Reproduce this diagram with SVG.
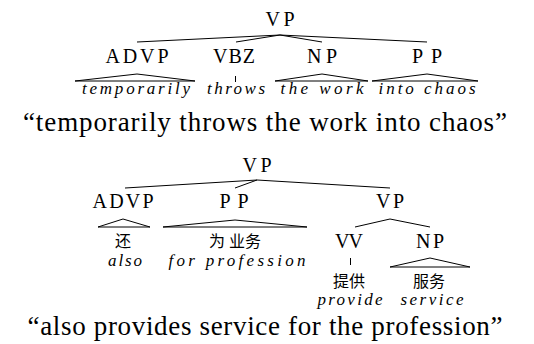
<svg xmlns="http://www.w3.org/2000/svg" width="534" height="344" viewBox="0 0 534 344">
<style>
.lab{font-family:"Liberation Serif","DejaVu Serif",serif;font-size:20px;fill:#000;text-anchor:middle}
.it{font-family:"Liberation Serif","DejaVu Serif",serif;font-style:italic;font-size:17px;fill:#000;text-anchor:middle}
.zh{font-family:"Liberation Serif","Noto Sans CJK SC",sans-serif;font-size:16px;fill:#000;text-anchor:middle}
.sen{font-family:"Liberation Serif","DejaVu Serif",serif;font-size:27px;fill:#000;text-anchor:middle}
.e{stroke:#000;stroke-width:1;fill:none}
</style>
<rect width="534" height="344" fill="#fff"/>
<g id="connectors">
<line class="e" x1="280" y1="35" x2="137" y2="42"/>
<line class="e" x1="280" y1="35" x2="236" y2="42"/>
<line class="e" x1="280" y1="35" x2="322" y2="42"/>
<line class="e" x1="280" y1="35" x2="427" y2="42"/>
<polygon class="e" points="137,74 75,81 195,81"/>
<line class="e" x1="235.5" y1="76" x2="235.5" y2="82"/>
<polygon class="e" points="322,74 275,81 368,81"/>
<polygon class="e" points="427,74 372,81 478,81"/>
<line class="e" x1="257" y1="180" x2="125" y2="188"/>
<line class="e" x1="257" y1="180" x2="235" y2="188"/>
<line class="e" x1="257" y1="180" x2="390" y2="188"/>
<polygon class="e" points="123,219 98,227 150,227"/>
<polygon class="e" points="235,220 163,227 307,227"/>
<line class="e" x1="390" y1="219" x2="355" y2="227"/>
<line class="e" x1="390" y1="219" x2="430" y2="227"/>
<line class="e" x1="350.5" y1="258" x2="350.5" y2="265"/>
<polygon class="e" points="430,258 390,267 470,267"/>
</g>
<g id="t1-vp"><text class="lab" x="280" y="26" textLength="29">VP</text></g>
<g id="t1-advp"><text class="lab" x="137" y="63" textLength="63">ADVP</text></g>
<g id="t1-vbz"><text class="lab" x="234" y="63" textLength="42">VBZ</text></g>
<g id="t1-np"><text class="lab" x="322" y="63" textLength="30">NP</text></g>
<g id="t1-pp"><text class="lab" x="427" y="63" textLength="30">PP</text></g>
<g id="t1-w1"><text class="it" x="136" y="94" textLength="108">temporarily</text></g>
<g id="t1-w2"><text class="it" x="236" y="94" textLength="58">throws</text></g>
<g id="t1-w3"><text class="it" x="322" y="94" textLength="83">the work</text></g>
<g id="t1-w4"><text class="it" x="427" y="94" textLength="97">into chaos</text></g>
<g id="s1"><text class="sen" x="265" y="131" textLength="484">“temporarily throws the work into chaos”</text></g>
<g id="t2-vp"><text class="lab" x="257" y="172" textLength="29">VP</text></g>
<g id="t2-advp"><text class="lab" x="123" y="208" textLength="61">ADVP</text></g>
<g id="t2-pp"><text class="lab" x="234" y="208" textLength="29">PP</text></g>
<g id="t2-vp2"><text class="lab" x="390" y="208" textLength="28">VP</text></g>
<g id="t2-vv"><text class="lab" x="349" y="248" textLength="28">VV</text></g>
<g id="t2-np"><text class="lab" x="430" y="248" textLength="28">NP</text></g>
<g id="t2-w1"><text class="zh" x="123" y="247">还</text><text class="it" x="125" y="266" textLength="34">also</text></g>
<g id="t2-w2"><text class="zh" x="235" y="247">为 业务</text><text class="it" x="237" y="266" textLength="137">for profession</text></g>
<g id="t2-w3"><text class="zh" x="349" y="287">提供</text><text class="it" x="350" y="305" textLength="65">provide</text></g>
<g id="t2-w4"><text class="zh" x="429" y="287">服务</text><text class="it" x="432" y="305" textLength="63">service</text></g>
<g id="s2"><text class="sen" x="265" y="335" textLength="475">“also provides service for the profession”</text></g>
</svg>
